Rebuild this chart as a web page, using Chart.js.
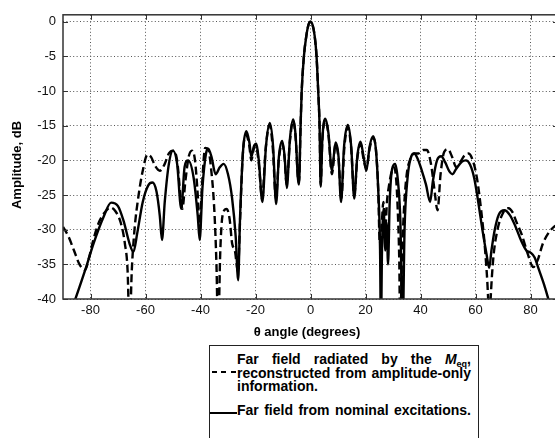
<!DOCTYPE html>
<html>
<head>
<meta charset="utf-8">
<script src="https://cdn.jsdelivr.net/npm/chart.js@4/dist/chart.umd.min.js"></script>
<style>
  html, body { margin: 0; padding: 0; background: #fff; overflow: hidden; width: 555px; height: 438px; }
  #wrap { position: relative; width: 555px; height: 438px; overflow: hidden; }
  #c { position: absolute; left: 0; top: 0; }
  #legend { position: absolute; left: 209px; top: 345px; width: 268px; height: 110px; border: 1px solid #222; background: #fff;
    box-sizing: content-box;
    font-family: "Liberation Sans", Arial, sans-serif; font-weight: bold; font-size: 14px; color: #000; }
  .ln { position: absolute; left: 27px; width: 234px; height: 14px; line-height: 14px; white-space: nowrap; }
  .just { text-align: justify; text-align-last: justify; white-space: normal; }
  .dash { position: absolute; left: 2px; width: 24px; height: 2px;
    background: repeating-linear-gradient(to right, #000 0 5px, transparent 5px 9.5px); }
  .solid { position: absolute; left: 0px; width: 27px; height: 2px; background: #000; }
  sub { font-size: 9px; vertical-align: -3px; line-height: 0; }
</style>
</head>
<body>
<div id="wrap">
  <canvas id="c" width="560" height="438" style="width:560px;height:438px"></canvas>
  <div id="legend">
    <div class="ln just" style="top:6px">Far field radiated by the <i>M</i><sub>eq</sub>,</div>
    <div class="dash" style="top:25px"></div>
    <div class="ln just" style="top:19.5px">reconstructed from amplitude-only</div>
    <div class="ln" style="top:33px">information.</div>
    <div class="solid" style="top:66px"></div>
    <div class="ln just" style="top:57px">Far field from nominal excitations.</div>
  </div>
</div>
<script>
// ---- data ----
const xTickValues = [-80, -60, -40, -20, 0, 20, 40, 60, 80];
const xTickLabels = ['-80', '-60', '-40', '-20', '0', '20', '40', '60', '80'];
const yTickValues = [0, -5, -10, -15, -20, -25, -30, -35, -40];
const yTickLabels = ['0', '-5', '-10', '-15', '-20', '-25', '-30', '-35', '-40'];

const xTitle = 'θ angle (degrees)';
const yTitle = 'Amplitude, dB';

// Far field from nominal excitations (solid)
const nominalTheta = [-90,-85.5,-81.5,-78.9,-75.3,-72.5,-70,-68,-65.8,-64.4,-63,-61,-59,-57.5,-56,-54.8,-54,-53,-51.5,-50,-48.5,-47,-45.8,-44.5,-42.5,-41,-40.3,-39.3,-38,-37.2,-36,-34.5,-33,-31.6,-30,-28.5,-27.2,-26.3,-25.6,-24.5,-23.3,-22.2,-21.5,-20.6,-19.8,-18.8,-17.5,-16.2,-14.8,-13.6,-12.5,-11.5,-10.3,-9.4,-8.6,-7.5,-6.3,-5.4,-4.6,-4.2,-3.6,-3.2,-2.4,-1.5,-0.7,0,0.7,1.5,2.2,2.8,3.3,3.7,4.3,5.4,6.5,7.8,9.1,10.2,11.1,12.2,13.6,14.8,15.9,17,18.2,19.3,20.3,21.5,22.8,23.8,24.6,25.3,25.6,26,26.6,27.2,27.7,28.2,28.8,29.7,30.8,31.8,32.7,33.5,34.2,35.3,36.5,37.7,39,40.5,42,43.5,44.5,46,47.5,49,50.5,51.6,53,55,56.5,58,59.5,61,62.5,64,65,65.8,67,68.5,70.5,72.5,74.5,76.5,78.5,80,81.5,83,85,86.5,88,90];
const nominalDb = [-45,-40,-35.3,-32,-28.2,-26.1,-26.6,-28.7,-32,-33.2,-30.5,-26,-23.6,-23.2,-24.5,-28,-31.5,-26,-20.5,-18.6,-20.5,-27,-21,-20,-22.5,-28,-31.5,-24,-19,-18.3,-19.5,-22,-21,-20.5,-22,-25.5,-31,-37.3,-28,-18.5,-15.8,-17.5,-19.5,-18,-17.6,-20,-26,-18,-14.6,-18,-26.3,-19.5,-17.2,-19.5,-24,-17,-14.1,-16.5,-22.5,-23.5,-15,-10,-5,-2,-0.4,0,-0.4,-2,-5,-10,-15,-23.8,-17,-14,-16,-21.5,-17.4,-19.5,-26,-18,-14.9,-18,-25.5,-19.5,-17.3,-19.5,-21.5,-18,-16.5,-18.5,-24,-33,-45,-33,-27,-33,-29,-35,-26,-21.2,-20.5,-23,-29,-45,-30,-22.5,-19.6,-19,-19.8,-21.5,-23.5,-26,-23,-20,-19.4,-20.3,-21.6,-22,-21.2,-20.2,-20,-20.6,-22.5,-26,-30,-33.5,-35.5,-33,-30,-27.8,-27.2,-27.9,-29.5,-31.5,-33,-33.3,-34,-35.7,-38,-40,-42,-45];

// Far field radiated by the Meq reconstructed from amplitude-only information (dashed)
const reconTheta = [-90,-88,-86,-84,-82,-80.5,-79,-77,-75,-72.8,-71,-69,-67.5,-66.5,-65.8,-65,-64,-62.5,-61,-59.3,-58,-56.5,-54.8,-53,-51.5,-50,-48.5,-47.3,-46.6,-45.5,-44.3,-43.1,-42,-41,-40.3,-39.5,-38.3,-37.2,-36.2,-35,-34.2,-33.6,-32.8,-32,-30.5,-29.4,-28.5,-27.5,-26.4,-25.6,-24.6,-23.4,-22.3,-21.5,-20.7,-19.8,-18.8,-17.6,-16.3,-14.9,-13.7,-12.6,-11.5,-10.3,-9.4,-8.7,-7.5,-6.3,-5.4,-4.6,-4.2,-3.6,-3.2,-2.4,-1.5,-0.7,0,0.7,1.5,2.2,2.8,3.3,3.7,4.3,5.4,6.5,7.8,9.1,10.2,11.2,12.3,13.6,14.8,15.9,17,18.2,19.3,20.3,21.5,22.8,23.8,24.6,25.2,25.8,26.5,27.2,27.8,28.6,29.6,30.4,31.2,31.8,32.3,32.6,33.2,34,35,36.3,37.7,39.3,41,42.3,43.8,45,46.2,47.3,48.6,50,51.5,53,54.5,56,57.5,59,60.5,62,63.5,64.6,65,65.5,66.5,68,70,72,73.5,75,76.9,79,81,82.5,84.5,86.5,88.5,90];
const reconDb = [-29.6,-31,-33,-35,-35.8,-34,-31.5,-29,-27.6,-26.8,-27.3,-29,-32,-36,-45,-36,-30,-25,-21.5,-19.2,-19.5,-20.8,-21.5,-20.5,-19,-18.6,-20,-25,-27,-23,-19.5,-18.6,-20,-25,-30,-24,-18.2,-18.4,-21,-27,-35,-45,-33,-28,-27,-28.5,-32,-33,-36,-28.5,-19,-16.3,-17.8,-20,-18.4,-17.9,-20.5,-25.5,-18.3,-14.9,-18.3,-25.5,-19.8,-17.5,-19.8,-23.5,-17.3,-14.3,-16.8,-22.3,-23.2,-15,-10,-5,-2,-0.4,0,-0.4,-2,-5,-10,-15,-23.5,-17.2,-14.2,-16.2,-22,-17.7,-19.8,-25.5,-18.2,-15.2,-18.3,-25,-19.8,-17.6,-19.8,-21.2,-18.3,-16.8,-18.5,-24,-32,-30,-26,-30,-26,-23.5,-21.5,-21,-23,-28,-35,-45,-35,-27,-22,-19.8,-19,-19,-18.5,-18.5,-20.5,-24,-27.2,-22,-18.8,-18.4,-19.5,-21,-20.2,-19.3,-19,-20,-22.5,-27,-33,-40,-45,-40,-34,-30,-27.6,-26.9,-27.5,-29,-30.8,-33.5,-35.4,-34.5,-32,-30.5,-29.6,-29.3];

const seriesNames = ['Far field radiated by the Meq, reconstructed from amplitude-only information.', 'Far field from nominal excitations.'];

// ---- chart ----
const FONT = '"Liberation Sans", Arial, sans-serif';
const toPts = (xs, ys) => xs.map((v, i) => ({ x: v, y: ys[i] }));

const framePlugin = {
  id: 'frame',
  afterDraw(chart) {
    const { ctx, chartArea: a, scales: { x, y } } = chart;
    ctx.save();
    ctx.strokeStyle = '#333';
    ctx.lineWidth = 1;
    ctx.beginPath();
    const L = 5;
    x.ticks.forEach(t => {
      const px = Math.round(x.getPixelForValue(t.value)) + 0.5;
      ctx.moveTo(px, a.bottom); ctx.lineTo(px, a.bottom - L);
      ctx.moveTo(px, a.top); ctx.lineTo(px, a.top + L);
    });
    y.ticks.forEach(t => {
      const py = Math.round(y.getPixelForValue(t.value)) + 0.5;
      ctx.moveTo(a.left, py); ctx.lineTo(a.left + L, py);
      ctx.moveTo(a.right, py); ctx.lineTo(a.right - L, py);
    });
    ctx.stroke();
    ctx.lineWidth = 1.5;
    ctx.strokeStyle = '#333';
    ctx.strokeRect(a.left, a.top, a.right - a.left, a.bottom - a.top);
    ctx.fillStyle = '#000';
    ctx.font = 'bold 13px ' + FONT;
    ctx.textAlign = 'center';
    ctx.textBaseline = 'middle';
    ctx.fillText(xTitle, 307, a.bottom + 33);
    ctx.translate(17, 165);
    ctx.rotate(-Math.PI / 2);
    ctx.fillText(yTitle, 0, 0);
    ctx.restore();
  }
};

new Chart(document.getElementById('c'), {
  type: 'line',
  data: {
    datasets: [
      {
        label: seriesNames[0],
        data: toPts(reconTheta, reconDb),
        borderColor: '#000',
        borderWidth: 2.4,
        borderDash: [8, 4],
        pointRadius: 0,
        fill: false,
        cubicInterpolationMode: 'monotone'
      },
      {
        label: seriesNames[1],
        data: toPts(nominalTheta, nominalDb),
        borderColor: '#000',
        borderWidth: 2.4,
        pointRadius: 0,
        fill: false,
        cubicInterpolationMode: 'monotone'
      }
    ]
  },
  options: {
    responsive: false,
    animation: false,
    devicePixelRatio: 1,
    layout: { padding: { top: 12, right: 2, left: 0, bottom: 0 } },
    plugins: { legend: { display: false }, tooltip: { enabled: false } },
    scales: {
      x: {
        type: 'linear',
        min: -90, max: 90,
        afterBuildTicks: s => { s.ticks = xTickValues.map(v => ({ value: v })); },
        afterFit: s => { s.height = 139; },
        ticks: {
          autoSkip: false, maxRotation: 0, padding: 4,
          color: '#111', font: { family: FONT, size: 13 },
          callback: (v, i) => xTickLabels[i]
        },
        grid: { color: '#555', lineWidth: 1, drawTicks: false },
        border: { display: false, dash: [1, 2.4] }
      },
      y: {
        type: 'linear',
        min: -40, max: 1,
        afterBuildTicks: s => { s.ticks = yTickValues.map(v => ({ value: v })); },
        afterFit: s => { s.width = 63; },
        ticks: {
          padding: 7,
          color: '#111', font: { family: FONT, size: 13 },
          callback: (v, i) => yTickLabels[i]
        },
        grid: { color: '#555', lineWidth: 1, drawTicks: false },
        border: { display: false, dash: [1, 2.4] }
      }
    }
  },
  plugins: [framePlugin]
});
</script>
</body>
</html>
